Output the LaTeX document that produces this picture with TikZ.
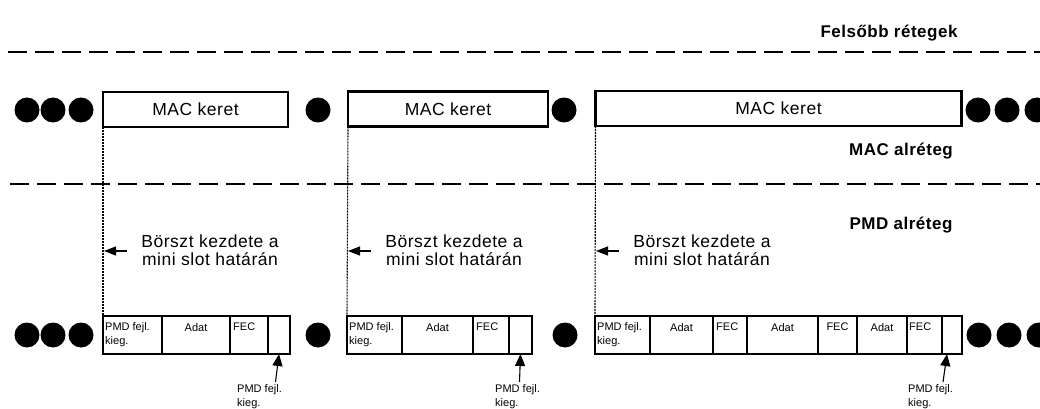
\documentclass[tikz,border=0pt]{standalone}
\usepackage{fontspec}
\setmainfont{Liberation Sans}
\newfontfamily\bigf{Liberation Sans}[LetterSpace=3]
\usetikzlibrary{arrows.meta}
\begin{document}
\begin{tikzpicture}[x=1pt,y=-1pt,
 dot/.style={circle,fill=black,inner sep=0,minimum size=25pt},
 macbox/.style={draw,line width=2.2pt,inner sep=0,outer sep=0,minimum height=35pt,font=\bigf\fontsize{17.5}{20}\selectfont},
 cell/.style={draw,line width=2.5pt,inner sep=0,outer sep=0,minimum height=38pt},
 layerline/.style={line width=2.4pt,dash pattern=on 19pt off 8pt},
 guide/.style={line width=1.1pt,dash pattern=on 2pt off 1pt},
 bigtxt/.style={font=\bigf\fontsize{17.5}{18}\selectfont,align=center},
 lay/.style={font=\bigf\bfseries\fontsize{17}{19}\selectfont},
 small/.style={font=\fontsize{11}{14}\selectfont,inner sep=0,align=left},
 ptr/.style={line width=1.1pt,-{Triangle[length=12pt,width=9pt]}},
 sptr/.style={line width=1.1pt,-{Triangle[length=12pt,width=10pt]}}
]
\path[use as bounding box, clip] (0,0) rectangle (1040,409);

% layer labels and lines
\node[lay] (felso) at (889,33) {Felsőbb rétegek};
\node[lay] (macl) at (901,151) {MAC alréteg};
\node[lay] (pmdl) at (901,225) {PMD alréteg};
\coordinate (l1a) at (8,52); \coordinate (l1b) at (1040,52);
\coordinate (l2a) at (10,184); \coordinate (l2b) at (1040,184);
\draw[layerline] (l1a) -- (l1b);
\draw[layerline] (l2a) -- (l2b);

% top row
\node[dot] (td1) at (27,110) {};
\node[dot] (td2) at (53,110) {};
\node[dot] (td3) at (81,110) {};
\node[macbox,minimum width=185pt] (m1) at (195.5,109.5) {MAC keret};
\node[dot] (td4) at (318,110) {};
\node[macbox,minimum width=200pt] (m2) at (448,109) {MAC keret};
\node[dot] (td5) at (564,110) {};
\node[macbox,minimum width=366pt] (m3) at (778.5,108.5) {MAC keret};
\node[dot] (td6) at (978,110) {};
\node[dot] (td7) at (1007,110) {};
\node[dot] (td8) at (1037,110) {};

% bottom row
\node[dot] (bd1) at (27,335) {};
\node[dot] (bd2) at (53,335) {};
\node[dot] (bd3) at (81,335) {};
\node[cell,minimum width=59pt] (a1) at (132.5,335) {};
\node[cell,minimum width=68pt] (a2) at (196,335) {};
\node[cell,minimum width=38pt] (a3) at (249,335) {};
\node[cell,minimum width=22pt] (a4) at (279,335) {};
\node[dot] (bd4) at (318,335) {};
\node[cell,minimum width=55pt] (b1) at (374.5,335) {};
\node[cell,minimum width=71pt] (b2) at (437.5,335) {};
\node[cell,minimum width=36pt] (b3) at (491,335) {};
\node[cell,minimum width=23pt] (b4) at (520.5,335) {};
\node[dot] (bd5) at (565,335) {};
\node[cell,minimum width=55pt] (c1) at (622.5,335) {};
\node[cell,minimum width=63pt] (c2) at (681.5,335) {};
\node[cell,minimum width=34pt] (c3) at (730,335) {};
\node[cell,minimum width=71pt] (c4) at (782.5,335) {};
\node[cell,minimum width=39pt] (c5) at (837.5,335) {};
\node[cell,minimum width=50pt] (c6) at (882,335) {};
\node[cell,minimum width=35pt] (c7) at (924.5,335) {};
\node[cell,minimum width=20pt] (c8) at (952,335) {};
\node[dot] (bd6) at (979,335) {};
\node[dot] (bd7) at (1009,335) {};
\node[dot] (bd8) at (1039,335) {};

% cell texts
\node[small,anchor=north west] (ta1) at ([xshift=2pt,yshift=-6pt]a1.north west) {PMD fejl.\\kieg.};
\node[small,anchor=north] (ta2) at ([yshift=-7pt]a2.north) {Adat};
\node[small,anchor=north west] (ta3) at ([xshift=3pt,yshift=-7pt]a3.north west) {FEC};
\node[small,anchor=north west] (tb1) at ([xshift=2pt,yshift=-6pt]b1.north west) {PMD fejl.\\kieg.};
\node[small,anchor=north] (tb2) at ([yshift=-7pt]b2.north) {Adat};
\node[small,anchor=north west] (tb3) at ([xshift=3pt,yshift=-7pt]b3.north west) {FEC};
\node[small,anchor=north west] (tc1) at ([xshift=2pt,yshift=-6pt]c1.north west) {PMD fejl.\\kieg.};
\node[small,anchor=north] (tc2) at ([yshift=-7pt]c2.north) {Adat};
\node[small,anchor=north west] (tc3) at ([xshift=3pt,yshift=-7pt]c3.north west) {FEC};
\node[small,anchor=north] (tc4) at ([yshift=-7pt]c4.north) {Adat};
\node[small,anchor=north] (tc5) at ([yshift=-7pt]c5.north) {FEC};
\node[small,anchor=north] (tc6) at ([yshift=-7pt]c6.north) {Adat};
\node[small,anchor=north west] (tc7) at ([xshift=2pt,yshift=-7pt]c7.north west) {FEC};

% guide lines
\draw[guide] (m1.south west) -- (a1.north west);
\draw[guide] (m2.south west) -- (b1.north west);
\draw[guide] (m3.south west) -- (c1.north west);

% burst start notes
\coordinate (g1) at (104,251); \coordinate (s1) at (127,251);
\coordinate (g2) at (348,251); \coordinate (s2) at (371,251);
\coordinate (g3) at (596,251); \coordinate (s3) at (619,251);
\draw[ptr] (s1) -- (g1);
\draw[ptr] (s2) -- (g2);
\draw[ptr] (s3) -- (g3);
\node[bigtxt] (n1) at (210,250) {Börszt kezdete a\\mini slot határán};
\node[bigtxt] (n2) at (454,250) {Börszt kezdete a\\mini slot határán};
\node[bigtxt] (n3) at (702,250) {Börszt kezdete a\\mini slot határán};

% bottom pointers
\node[small,anchor=north west] (p1) at (237,384) {PMD fejl.\\kieg.};
\node[small,anchor=north west] (p2) at (495,384) {PMD fejl.\\kieg.};
\node[small,anchor=north west] (p3) at (908,384) {PMD fejl.\\kieg.};
\coordinate (q1) at (275.5,382); \coordinate (q2) at (519.5,382); \coordinate (q3) at (943,382);
\draw[sptr] (q1) -- (a4.south);
\draw[sptr] (q2) -- (b4.south);
\draw[sptr] (q3) -- ([xshift=-5pt]c8.south);
\end{tikzpicture}
\end{document}
